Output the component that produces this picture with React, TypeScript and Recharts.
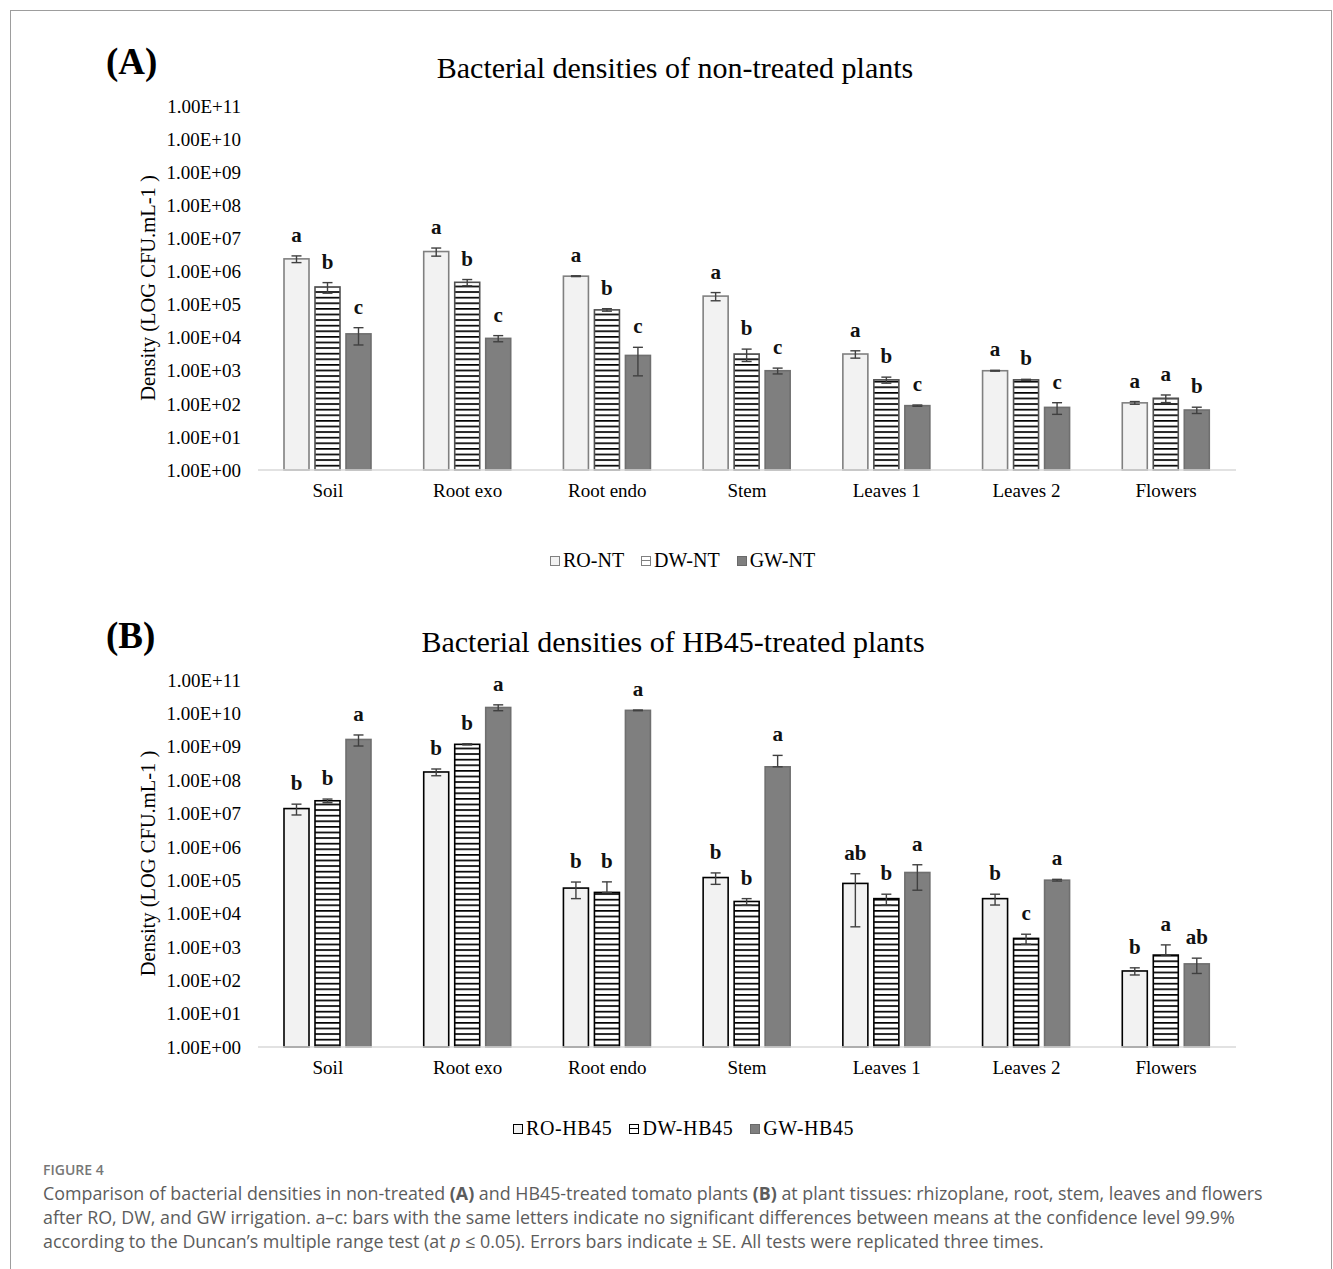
import React from 'react'
import { BarChart, Bar, XAxis, YAxis, ErrorBar } from 'recharts'

const categories = ['Soil', 'Root exo', 'Root endo', 'Stem', 'Leaves 1', 'Leaves 2', 'Flowers']
const yTicks = [1, 1e1, 1e2, 1e3, 1e4, 1e5, 1e6, 1e7, 1e8, 1e9, 1e10, 1e11]

// (A) non-treated
const roNT = [2.4e6, 4.0e6, 7.2e5, 1.8e5, 3.2e3, 1.0e3, 107]
const roNTErr = [5.5e5, 1.1e6, 2e4, 5e4, 8e2, 3e1, 10]
const roNTLetters = ['a', 'a', 'a', 'a', 'a', 'a', 'a']
const dwNT = [3.4e5, 4.7e5, 6.9e4, 3.2e3, 5.3e2, 5.3e2, 147]
const dwNTErr = [1.2e5, 1.0e5, 6e3, 1.3e3, 1.1e2, 2e1, 38]
const dwNTLetters = ['b', 'b', 'b', 'b', 'b', 'b', 'a']
const gwNT = [1.3e4, 9.5e3, 2.9e3, 1.0e3, 88, 78, 65]
const gwNTErr = [7e3, 2e3, 2.2e3, 2e2, 4, 30, 14]
const gwNTLetters = ['c', 'c', 'c', 'c', 'c', 'c', 'b']

// (B) HB45-treated
const roHB = [1.4e7, 1.75e8, 5.8e4, 1.2e5, 8.0e4, 2.8e4, 190]
const roHBErr = [5e6, 4e7, 3e4, 4.5e4, 7.6e4, 1e4, 46]
const roHBLetters = ['b', 'b', 'b', 'b', 'ab', 'b', 'b']
const dwHB = [2.4e7, 1.18e9, 4.3e4, 2.3e4, 2.8e4, 1.8e3, 570]
const dwHBErr = [3e6, 5e7, 4.6e4, 5e3, 1e4, 6e2, 580]
const dwHBLetters = ['b', 'b', 'b', 'b', 'b', 'c', 'a']
const gwHB = [1.65e9, 1.5e10, 1.23e10, 2.5e8, 1.7e5, 1.0e5, 310]
const gwHBErr = [6e8, 3e9, 3e8, 3e8, 1.2e5, 6e3, 150]
const gwHBLetters = ['a', 'a', 'a', 'a', 'a', 'a', 'ab']

const SERIF = '"Liberation Serif", "Times New Roman", serif'
const SANS = '"Open Sans", "Noto Sans", sans-serif'

type Series = {
  key: string
  name: string
  values: number[]
  errors: number[]
  letters: string[]
  fill: string
  stroke: string
}

function fmtTick(v: number) {
  const e = Math.round(Math.log10(v))
  return `1.00E+${String(e).padStart(2, '0')}`
}

// bar rectangle plus the significance letter above its error bar
function letterShape(s: Series) {
  return (props: any) => {
    const { x, y, width, height, index } = props
    const v = s.values[index]
    const e = s.errors[index]
    const perDecade = height / Math.log10(v)
    const errTop = y - perDecade * Math.log10((v + e) / v)
    return (
      <g>
        <rect x={x} y={y} width={width} height={height} fill={s.fill} stroke={s.stroke} strokeWidth={1.6} />
        <text
          x={x + width / 2}
          y={errTop - 14}
          textAnchor="middle"
          fontFamily={SERIF}
          fontWeight="bold"
          fontSize={21}
          fill="#111"
        >
          {s.letters[index]}
        </text>
      </g>
    )
  }
}

function LegendBox({ kind, border }: { kind: string; border: string }) {
  const base: React.CSSProperties = {
    width: 10,
    height: 10,
    boxSizing: 'border-box',
    border: `1.5px solid ${border}`,
    position: 'relative',
    marginRight: 3,
  }
  if (kind === 'gw') return <div style={{ ...base, background: '#7f7f7f', border: '1px solid #6a6a6a' }} />
  if (kind === 'dw')
    return (
      <div style={{ ...base, background: '#fff' }}>
        <div style={{ position: 'absolute', left: 0, right: 0, top: 3, height: 1.5, background: border }} />
      </div>
    )
  return <div style={{ ...base, background: '#f2f2f2' }} />
}

function Panel(props: {
  top: number
  plotBottom: number
  tag: string
  title: string
  titleX: number
  series: Series[]
  patternId: string
  legendLeft: number
  legendTop: number
  legendBorder: string
  legendSpacing: number
}) {
  const { top, plotBottom, tag, title, titleX, series, patternId } = props
  const height = 520
  const data = categories.map((name, i) => {
    const row: any = { name }
    series.forEach((s) => {
      const v = s.values[i]
      const e = s.errors[i]
      row[s.key] = v
      // on a log axis a minus error past zero is not drawn
      row[s.key + 'Err'] = e >= v ? [0, e] : e
    })
    return row
  })

  return (
    <div style={{ position: 'absolute', left: 0, top, width: 1333, height }}>
      <BarChart
        width={1333}
        height={height}
        data={data}
        margin={{ top: 106, right: 97, left: 0, bottom: height - plotBottom - 40 }}
        barSize={25}
        barGap={6}
      >
        <defs>
          <pattern id={patternId} patternUnits="userSpaceOnUse" width={8} height={5.6}>
            <rect x={0} y={0} width={8} height={5.6} fill="#fff" />
            <rect x={0} y={0} width={8} height={1.7} fill="#000" />
          </pattern>
        </defs>
        <text x={106} y={74} fontFamily={SERIF} fontWeight="bold" fontSize={37} fill="#000">
          {tag}
        </text>
        <text x={titleX} y={78} textAnchor="middle" fontFamily={SERIF} fontSize={30} fill="#000">
          {title}
        </text>
        <text
          transform={`translate(148, ${(106 + plotBottom) / 2}) rotate(-90)`}
          textAnchor="middle"
          dominantBaseline="central"
          fontFamily={SERIF}
          fontSize={20.5}
          fill="#000"
        >
          Density (LOG CFU.mL-1 )
        </text>
        <XAxis
          dataKey="name"
          height={40}
          tickLine={false}
          axisLine={{ stroke: '#d9d9d9', strokeWidth: 1.5 }}
          tickMargin={8}
          tick={{ fontFamily: SERIF, fontSize: 19, fill: '#000' }}
        />
        <YAxis
          scale="log"
          domain={[1, 1e11]}
          ticks={yTicks}
          interval={0}
          width={258}
          axisLine={false}
          tickLine={false}
          tickSize={0}
          tickMargin={17}
          tickFormatter={fmtTick}
          tick={{ fontFamily: SERIF, fontSize: 19, fill: '#000' }}
        />
        {series.map((s) => (
          <Bar
            key={s.key}
            dataKey={s.key}
            name={s.name}
            fill={s.fill}
            stroke={s.stroke}
            isAnimationActive={false}
            shape={letterShape(s)}
          >
            <ErrorBar dataKey={s.key + 'Err'} width={5} stroke="#404040" strokeWidth={1.4} direction="y" />
          </Bar>
        ))}
      </BarChart>
      <div
        style={{
          position: 'absolute',
          left: props.legendLeft,
          top: props.legendTop,
          display: 'flex',
          alignItems: 'center',
          fontFamily: SERIF,
          fontSize: 20,
          color: '#000',
          whiteSpace: 'nowrap',
          letterSpacing: props.legendSpacing,
        }}
      >
        {series.map((s, i) => (
          <div key={s.key} style={{ display: 'flex', alignItems: 'center', marginLeft: i === 0 ? 0 : 17 }}>
            <LegendBox kind={s.key} border={props.legendBorder} />
            <span>{s.name}</span>
          </div>
        ))}
      </div>
    </div>
  )
}

export default function App() {
  const seriesA: Series[] = [
    { key: 'ro', name: 'RO-NT', values: roNT, errors: roNTErr, letters: roNTLetters, fill: '#f2f2f2', stroke: '#808080' },
    { key: 'dw', name: 'DW-NT', values: dwNT, errors: dwNTErr, letters: dwNTLetters, fill: 'url(#stripeA)', stroke: '#505050' },
    { key: 'gw', name: 'GW-NT', values: gwNT, errors: gwNTErr, letters: gwNTLetters, fill: '#7f7f7f', stroke: '#6f6f6f' },
  ]
  const seriesB: Series[] = [
    { key: 'ro', name: 'RO-HB45', values: roHB, errors: roHBErr, letters: roHBLetters, fill: '#f2f2f2', stroke: '#000' },
    { key: 'dw', name: 'DW-HB45', values: dwHB, errors: dwHBErr, letters: dwHBLetters, fill: 'url(#stripeB)', stroke: '#000' },
    { key: 'gw', name: 'GW-HB45', values: gwHB, errors: gwHBErr, letters: gwHBLetters, fill: '#7f7f7f', stroke: '#6f6f6f' },
  ]

  return (
    <div style={{ position: 'absolute', left: 0, top: 0, width: 1333, height: 1269, overflow: 'hidden', background: '#fff' }}>
      <div
        style={{
          position: 'absolute',
          left: 10,
          top: 10,
          width: 1322,
          height: 1300,
          boxSizing: 'border-box',
          border: '1px solid #9d9d9d',
        }}
      />
      <Panel
        top={0}
        plotBottom={470}
        tag="(A)"
        title="Bacterial densities of non-treated plants"
        titleX={675}
        series={seriesA}
        patternId="stripeA"
        legendLeft={550}
        legendTop={549}
        legendBorder="#808080"
        legendSpacing={0}
      />
      <Panel
        top={574}
        plotBottom={473}
        tag="(B)"
        title="Bacterial densities of HB45-treated plants"
        titleX={673}
        series={seriesB}
        patternId="stripeB"
        legendLeft={513}
        legendTop={543}
        legendBorder="#000"
        legendSpacing={0.6}
      />
      <div style={{ position: 'absolute', left: 43, top: 1160, fontFamily: SANS, fontSize: 14, fontWeight: 600, color: '#777' }}>
        FIGURE 4
      </div>
      <div
        style={{
          position: 'absolute',
          left: 43,
          top: 1181,
          fontFamily: SANS,
          fontSize: 17.85,
          lineHeight: '24px',
          color: '#5c5c5c',
          whiteSpace: 'nowrap',
        }}
      >
        Comparison of bacterial densities in non-treated <b>(A)</b> and HB45-treated tomato plants <b>(B)</b> at plant
        tissues: rhizoplane, root, stem, leaves and flowers
        <br />
        after RO, DW, and GW irrigation. a–c: bars with the same letters indicate no significant differences between
        means at the confidence level 99.9%
        <br />
        according to the Duncan’s multiple range test (at <i>p</i> ≤ 0.05). Errors bars indicate ± SE. All tests were
        replicated three times.
      </div>
    </div>
  )
}
